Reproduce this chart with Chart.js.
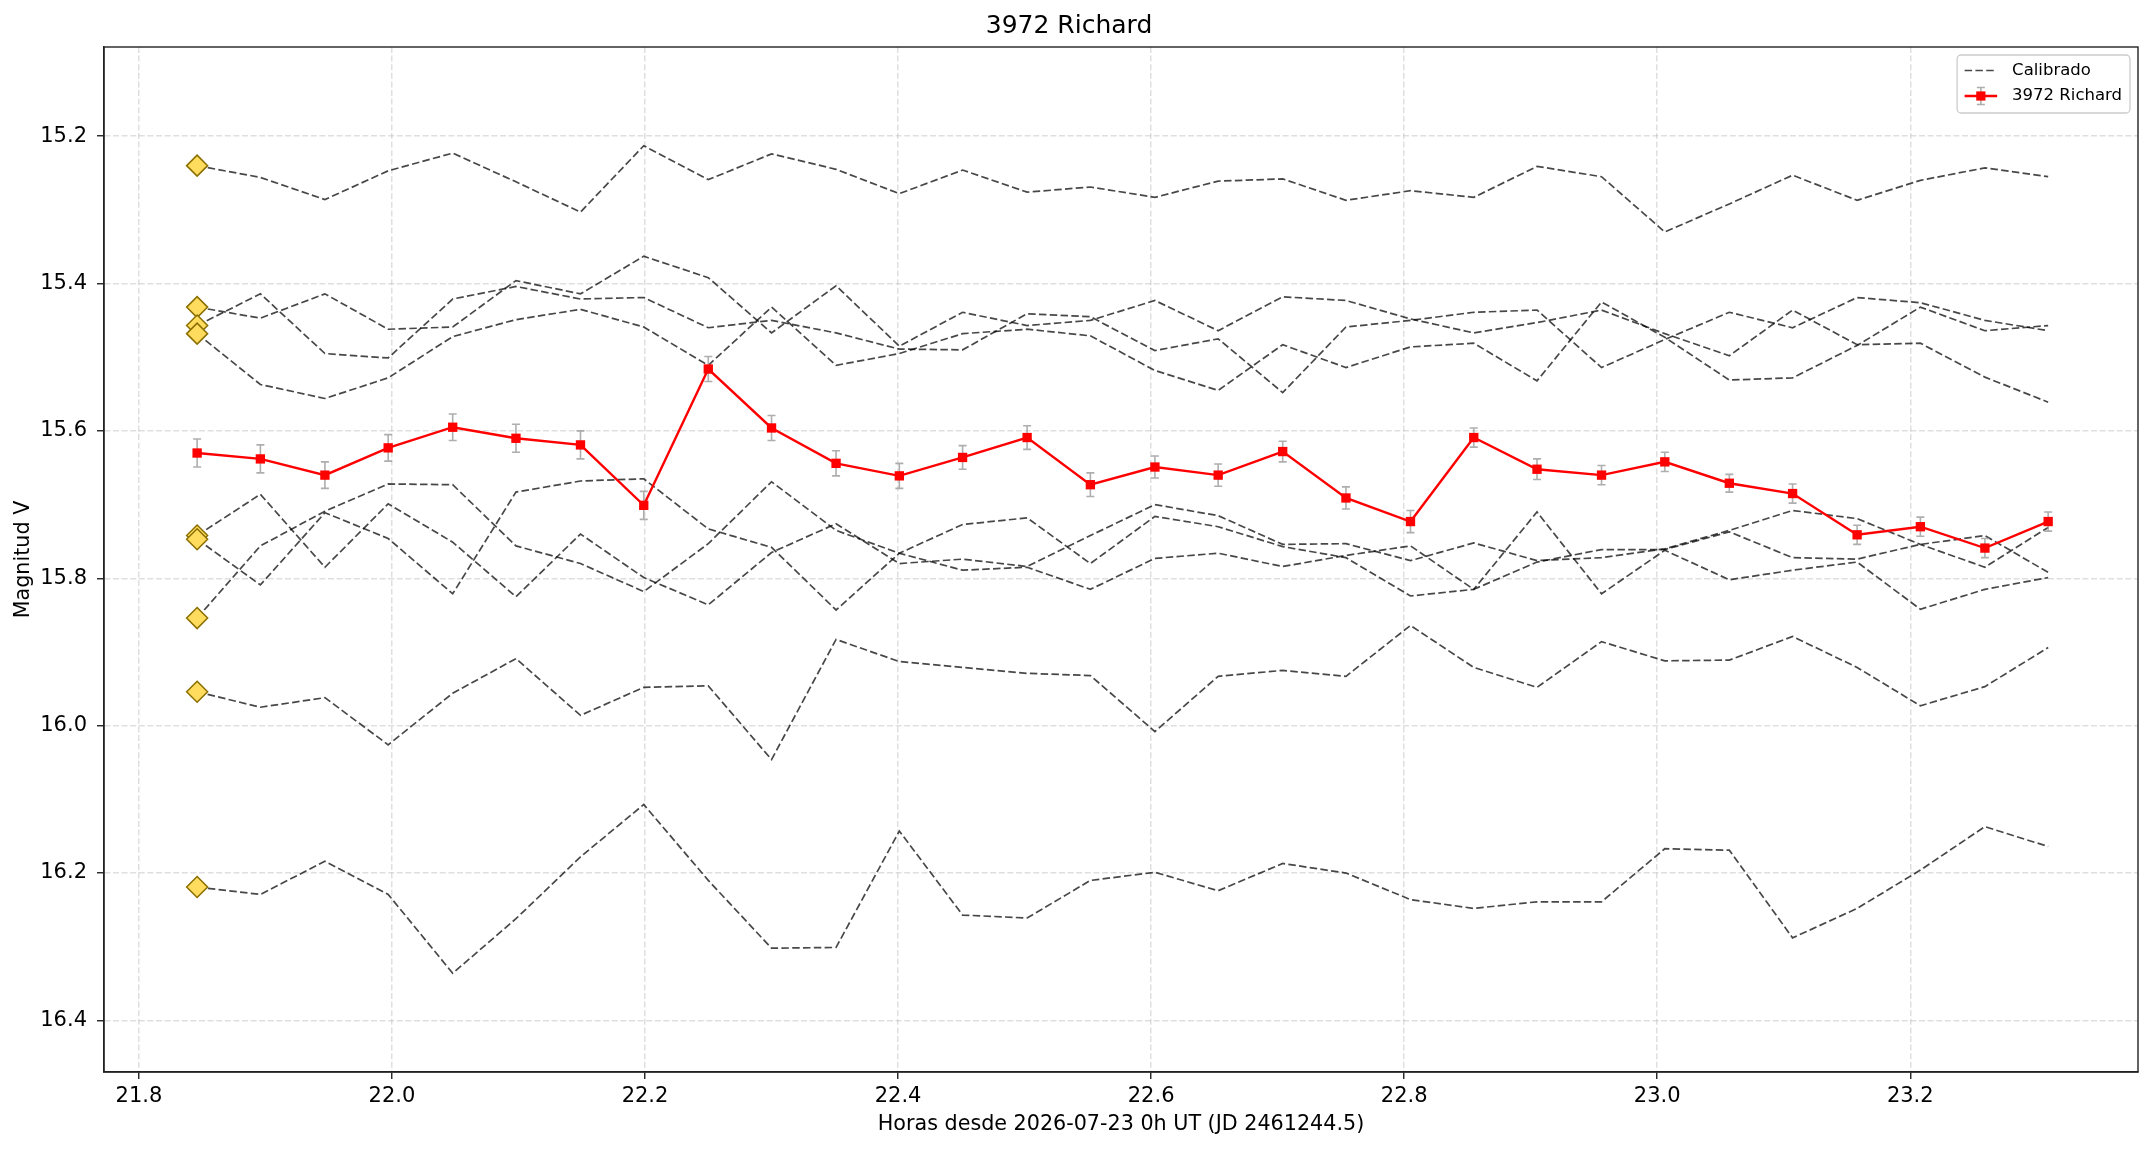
<!DOCTYPE html>
<html>
<head>
<meta charset="utf-8">
<title>3972 Richard</title>
<script src="https://cdn.jsdelivr.net/npm/chart.js@4.4.1/dist/chart.umd.min.js"></script>
<style>
  html, body { margin: 0; padding: 0; background: #fff; }
  canvas { display: block; }
</style>
</head>
<body>
<canvas id="curva" width="2153" height="1151"></canvas>
<script>
// Horas desde 2026-07-23 0h UT
const horas = [21.846, 21.896, 21.947, 21.997, 22.048, 22.098, 22.149, 22.199, 22.250, 22.300,
               22.351, 22.401, 22.451, 22.502, 22.552, 22.603, 22.653, 22.704, 22.754, 22.805,
               22.855, 22.905, 22.956, 23.006, 23.057, 23.107, 23.158, 23.208, 23.259, 23.309];

// Asteroide
const richard = [15.630, 15.638, 15.660, 15.623, 15.595, 15.610, 15.619, 15.701, 15.516, 15.596,
                 15.644, 15.661, 15.636, 15.609, 15.673, 15.649, 15.660, 15.628, 15.691, 15.723,
                 15.609, 15.652, 15.660, 15.642, 15.671, 15.685, 15.741, 15.730, 15.759, 15.723];
const richardErr = [0.019, 0.019, 0.018, 0.018, 0.018, 0.019, 0.019, 0.019, 0.017, 0.017,
                    0.017, 0.017, 0.016, 0.016, 0.016, 0.015, 0.015, 0.014, 0.015, 0.015,
                    0.013, 0.014, 0.013, 0.013, 0.012, 0.013, 0.013, 0.013, 0.013, 0.013];

// Estrellas de comparacion (calibradas)
const cal1 = [15.240, 15.256, 15.286, 15.247, 15.223, 15.262, 15.303, 15.213, 15.259, 15.224,
              15.245, 15.278, 15.246, 15.276, 15.269, 15.283, 15.261, 15.258, 15.287, 15.274,
              15.283, 15.241, 15.255, 15.330, 15.292, 15.253, 15.287, 15.260, 15.243, 15.255];
const cal2 = [15.432, 15.447, 15.414, 15.462, 15.459, 15.396, 15.414, 15.363, 15.392, 15.467,
              15.403, 15.485, 15.439, 15.457, 15.450, 15.423, 15.464, 15.418, 15.423, 15.448,
              15.467, 15.453, 15.436, 15.468, 15.498, 15.436, 15.483, 15.481, 15.527, 15.561];
const cal3 = [15.457, 15.414, 15.495, 15.501, 15.421, 15.404, 15.421, 15.419, 15.460, 15.450,
              15.467, 15.489, 15.490, 15.441, 15.445, 15.491, 15.475, 15.548, 15.459, 15.450,
              15.439, 15.436, 15.514, 15.476, 15.439, 15.460, 15.419, 15.426, 15.450, 15.464];
const cal4 = [15.468, 15.537, 15.556, 15.528, 15.472, 15.449, 15.435, 15.459, 15.511, 15.432,
              15.511, 15.495, 15.468, 15.462, 15.471, 15.518, 15.545, 15.483, 15.514, 15.486,
              15.481, 15.532, 15.425, 15.473, 15.531, 15.528, 15.484, 15.432, 15.464, 15.457];
const cal5 = [15.742, 15.686, 15.785, 15.699, 15.751, 15.825, 15.740, 15.799, 15.836, 15.765,
              15.726, 15.780, 15.774, 15.784, 15.742, 15.700, 15.715, 15.754, 15.753, 15.776,
              15.752, 15.776, 15.772, 15.760, 15.735, 15.708, 15.719, 15.754, 15.785, 15.731];
const cal6 = [15.747, 15.809, 15.711, 15.746, 15.821, 15.683, 15.668, 15.665, 15.733, 15.758,
              15.843, 15.766, 15.727, 15.718, 15.780, 15.716, 15.730, 15.757, 15.772, 15.824,
              15.815, 15.710, 15.821, 15.762, 15.802, 15.789, 15.778, 15.842, 15.815, 15.799];
const cal7 = [15.854, 15.756, 15.709, 15.672, 15.673, 15.756, 15.780, 15.818, 15.753, 15.669,
              15.735, 15.766, 15.789, 15.785, 15.815, 15.773, 15.766, 15.784, 15.769, 15.756,
              15.815, 15.778, 15.761, 15.761, 15.737, 15.772, 15.774, 15.754, 15.742, 15.792];
const cal8 = [15.954, 15.975, 15.962, 16.026, 15.956, 15.909, 15.986, 15.948, 15.946, 16.046,
              15.883, 15.913, 15.921, 15.929, 15.932, 16.008, 15.933, 15.925, 15.933, 15.864,
              15.921, 15.948, 15.886, 15.912, 15.911, 15.879, 15.921, 15.973, 15.947, 15.894];
const cal9 = [16.219, 16.229, 16.184, 16.229, 16.336, 16.262, 16.178, 16.107, 16.210, 16.302,
              16.301, 16.143, 16.257, 16.261, 16.210, 16.199, 16.224, 16.187, 16.200, 16.236,
              16.248, 16.239, 16.239, 16.167, 16.169, 16.288, 16.248, 16.196, 16.137, 16.164];
const calibrados = [cal1, cal2, cal3, cal4, cal5, cal6, cal7, cal8, cal9];

// Marcas de los ejes
const xTicks = [21.8, 22.0, 22.2, 22.4, 22.6, 22.8, 23.0, 23.2];
const yTicks = [15.2, 15.4, 15.6, 15.8, 16.0, 16.2, 16.4];

const fuente = "'DejaVu Sans', sans-serif";
Chart.defaults.font.family = fuente;
Chart.defaults.color = '#000';

const dashCal = [7.5, 3.3];
const colorCal = 'rgba(0,0,0,0.72)';
const colorErr = 'rgba(160,160,160,0.85)';

function puntos(valores) {
    return horas.map(function (h, i) { return { x: h, y: valores[i] }; });
}

var datasets = [];
// diamantes en la primera medida de cada estrella
datasets.push({
    label: 'inicio',
    data: calibrados.map(function (c) { return { x: horas[0], y: c[0] }; }),
    showLine: false,
    pointStyle: 'rectRot',
    pointRadius: 10.5,
    backgroundColor: '#ffdc5e',
    borderColor: '#8a6e00',
    pointBorderWidth: 1.5,
    order: 0
});
datasets.push({
    label: '3972 Richard',
    data: puntos(richard),
    errores: richardErr,
    borderColor: '#ff0000',
    backgroundColor: '#ff0000',
    borderWidth: 2.4,
    pointStyle: 'rect',
    pointRadius: 6.6,
    pointBorderWidth: 0,
    order: 1
});
calibrados.forEach(function (c) {
    datasets.push({
        label: 'Calibrado',
        data: puntos(c),
        borderColor: colorCal,
        borderWidth: 1.7,
        borderDash: dashCal,
        pointRadius: 0,
        order: 2
    });
});

// barras de error debajo de los cuadrados rojos
const barrasError = {
    id: 'barrasError',
    beforeDatasetDraw(chart, args) {
        var ds = chart.data.datasets[args.index];
        if (!ds.errores) return;
        var ctx = chart.ctx, x = chart.scales.x, y = chart.scales.y;
        ctx.save();
        ctx.strokeStyle = colorErr;
        ctx.lineWidth = 1.6;
        ds.data.forEach(function (p, i) {
            var px = x.getPixelForValue(p.x);
            var y1 = y.getPixelForValue(p.y - ds.errores[i]);
            var y2 = y.getPixelForValue(p.y + ds.errores[i]);
            ctx.beginPath();
            ctx.moveTo(px, y1); ctx.lineTo(px, y2);
            ctx.moveTo(px - 4, y1); ctx.lineTo(px + 4, y1);
            ctx.moveTo(px - 4, y2); ctx.lineTo(px + 4, y2);
            ctx.stroke();
        });
        ctx.restore();
    }
};

// marco completo del area del grafico
const marco = {
    id: 'marco',
    afterDatasetsDraw(chart) {
        var a = chart.chartArea, ctx = chart.ctx;
        ctx.save();
        ctx.strokeStyle = '#222';
        ctx.lineWidth = 1.4;
        ctx.strokeRect(a.left, a.top, a.right - a.left, a.bottom - a.top);
        ctx.restore();
    }
};

// leyenda dentro del grafico, arriba a la derecha
const leyenda = {
    id: 'leyenda',
    afterDraw(chart) {
        var a = chart.chartArea, ctx = chart.ctx;
        ctx.save();
        ctx.font = '16.5px ' + fuente;
        var textos = ['Calibrado', '3972 Richard'];
        var ancho = 55 + Math.max.apply(null, textos.map(function (t) { return ctx.measureText(t).width; })) + 8;
        var alto = 58;
        var right = a.right - 8, top = a.top + 8, left = right - ancho;
        ctx.beginPath();
        ctx.roundRect(left, top, ancho, alto, 4);
        ctx.fillStyle = 'rgba(255,255,255,0.85)';
        ctx.fill();
        ctx.strokeStyle = '#cccccc';
        ctx.lineWidth = 1.3;
        ctx.stroke();

        var y1 = top + 15.5, y2 = top + 41;
        var h0 = left + 7.5, h1 = left + 40, hm = (h0 + h1) / 2;
        // Calibrado
        ctx.strokeStyle = colorCal;
        ctx.lineWidth = 1.7;
        ctx.setLineDash(dashCal);
        ctx.beginPath(); ctx.moveTo(h0, y1); ctx.lineTo(h1, y1); ctx.stroke();
        ctx.setLineDash([]);
        // Richard con barra de error
        ctx.strokeStyle = colorErr;
        ctx.lineWidth = 1.6;
        ctx.beginPath();
        ctx.moveTo(hm, y2 - 8.5); ctx.lineTo(hm, y2 + 8.5);
        ctx.moveTo(hm - 4, y2 - 8.5); ctx.lineTo(hm + 4, y2 - 8.5);
        ctx.moveTo(hm - 4, y2 + 8.5); ctx.lineTo(hm + 4, y2 + 8.5);
        ctx.stroke();
        ctx.strokeStyle = '#ff0000';
        ctx.lineWidth = 2.4;
        ctx.beginPath(); ctx.moveTo(h0, y2); ctx.lineTo(h1, y2); ctx.stroke();
        ctx.fillStyle = '#ff0000';
        ctx.fillRect(hm - 4.6, y2 - 4.6, 9.2, 9.2);

        ctx.fillStyle = '#000';
        ctx.textBaseline = 'middle';
        ctx.textAlign = 'left';
        ctx.fillText(textos[0], left + 55, y1);
        ctx.fillText(textos[1], left + 55, y2);
        ctx.restore();
    }
};

new Chart(document.getElementById('curva'), {
    type: 'line',
    data: { datasets: datasets },
    plugins: [barrasError, marco, leyenda],
    options: {
        responsive: false,
        animation: false,
        devicePixelRatio: 1,
        layout: { padding: { left: 0, right: 15, top: 0, bottom: 0 } },
        elements: { line: { tension: 0 } },
        plugins: {
            legend: { display: false },
            tooltip: { enabled: false },
            title: {
                display: true,
                text: '3972 Richard',
                color: '#000',
                font: { size: 25, weight: 'normal', family: fuente },
                padding: { top: 11.5, bottom: 5.5 }
            }
        },
        scales: {
            x: {
                type: 'linear',
                min: 21.7724,
                max: 23.380,
                afterFit: function (s) { s.height = 79; },
                afterBuildTicks: function (s) { s.ticks = xTicks.map(function (v) { return { value: v }; }); },
                ticks: {
                    font: { size: 21 },
                    color: '#000',
                    padding: 5,
                    maxRotation: 0,
                    callback: function (v) { return Number(v).toFixed(1); }
                },
                grid: {
                    color: 'rgba(176,176,176,0.4)',
                    lineWidth: 1.5,
                    tickColor: '#222',
                    tickLength: 7,
                    tickWidth: 1.4
                },
                border: { display: true, color: '#222', width: 1.4, dash: [6, 2.6] },
                title: {
                    display: true,
                    text: 'Horas desde 2026-07-23 0h UT (JD 2461244.5)',
                    font: { size: 20.7 },
                    color: '#000',
                    padding: { top: 0, bottom: 14 }
                }
            },
            y: {
                type: 'linear',
                reverse: true,
                min: 15.079,
                max: 16.470,
                afterFit: function (s) { s.width = 104; },
                afterBuildTicks: function (s) { s.ticks = yTicks.map(function (v) { return { value: v }; }); },
                ticks: {
                    font: { size: 21 },
                    color: '#000',
                    padding: 10,
                    callback: function (v) { return Number(v).toFixed(1); }
                },
                grid: {
                    color: 'rgba(176,176,176,0.4)',
                    lineWidth: 1.5,
                    tickColor: '#222',
                    tickLength: 7,
                    tickWidth: 1.4
                },
                border: { display: true, color: '#222', width: 1.4, dash: [6, 2.6] },
                title: {
                    display: true,
                    text: 'Magnitud V',
                    font: { size: 20.7 },
                    color: '#000',
                    padding: { top: 11, bottom: 0 }
                }
            }
        }
    }
});
</script>
</body>
</html>
